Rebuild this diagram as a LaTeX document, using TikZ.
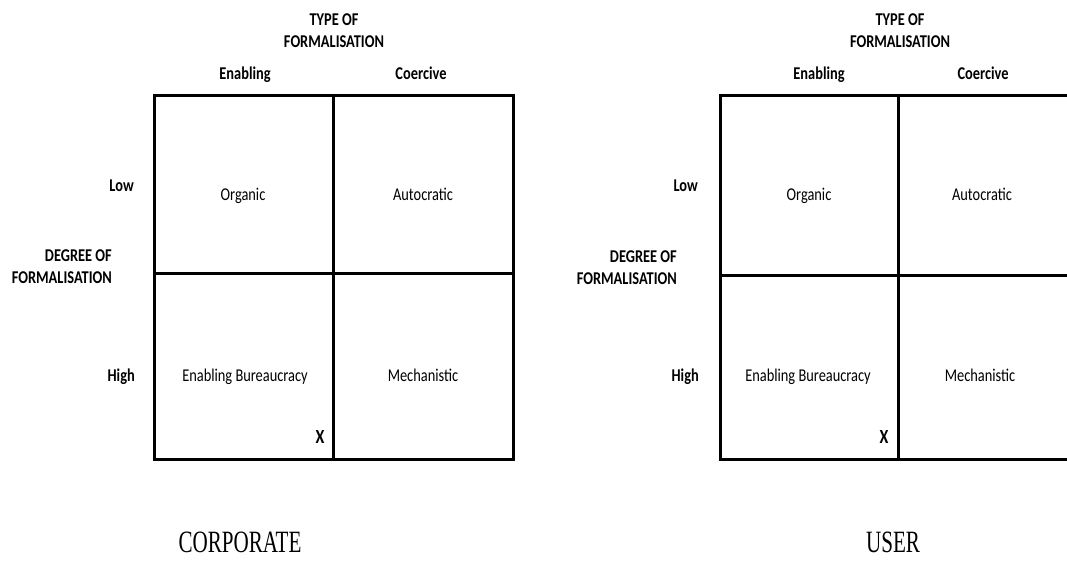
\documentclass[tikz,border=0pt]{standalone}
\usepackage{fontspec}
\setmainfont[FakeStretch=0.8]{Carlito}
\newfontfamily\capfont[FakeStretch=0.68]{Liberation Serif}
\usepackage{tikz}
\usetikzlibrary{backgrounds}
\pgfdeclarelayer{edgelayer}
\pgfdeclarelayer{nodelayer}
\pgfsetlayers{edgelayer,nodelayer,main}
\tikzstyle{head}=[font=\fontsize{18}{22}\selectfont\bfseries, align=center, inner sep=0pt]
\tikzstyle{colhead}=[font=\fontsize{18}{22}\selectfont\bfseries, anchor=base, inner sep=0pt]
\tikzstyle{rowhead}=[font=\fontsize{18}{22}\selectfont\bfseries, align=right, anchor=east, inner sep=0pt]
\tikzstyle{cell}=[font=\fontsize{18}{22}\selectfont, anchor=base, inner sep=0pt]
\tikzstyle{xmark}=[font=\fontsize{20}{22}\selectfont\bfseries, inner sep=0pt]
\tikzstyle{caption}=[font=\fontsize{31}{33}\selectfont\capfont, inner sep=0pt]
\tikzstyle{gridline}=[draw=black, line width=3pt]

\begin{document}
\begin{tikzpicture}[x=1pt, y=-1pt]
            \clip (0, 0) rectangle (1067, 561);
            \begin{pgfonlayer}{nodelayer}
                % corporate
                \node [style=head] (typeC) at (334, 31) {TYPE OF\\FORMALISATION};
                \node [style=colhead] (enabC) at (245, 80) {Enabling};
                \node [style=colhead] (coerC) at (421, 80) {Coercive};
                \node [style=rowhead] (lowC) at (134, 186) {Low};
                \node [style=rowhead] (degC) at (112, 267) {DEGREE OF\\FORMALISATION};
                \node [style=rowhead] (highC) at (135, 377) {High};
                \node [style=cell] (orgC) at (243, 201) {Organic};
                \node [style=cell] (autC) at (423, 201) {Autocratic};
                \node [style=cell] (bureC) at (245, 381) {Enabling Bureaucracy};
                \node [style=cell] (mechC) at (423, 381) {Mechanistic};
                \node [style=xmark] (xC) at (320, 437) {X};
                \node [style=caption] (corp) at (240, 542) {CORPORATE};
                % user
                \node [style=head] (typeU) at (900, 31) {TYPE OF\\FORMALISATION};
                \node [style=colhead] (enabU) at (819, 80) {Enabling};
                \node [style=colhead] (coerU) at (983, 80) {Coercive};
                \node [style=rowhead] (lowU) at (698, 186) {Low};
                \node [style=rowhead] (degU) at (677, 268) {DEGREE OF\\FORMALISATION};
                \node [style=rowhead] (highU) at (699, 377) {High};
                \node [style=cell] (orgU) at (809, 201) {Organic};
                \node [style=cell] (autU) at (982, 201) {Autocratic};
                \node [style=cell] (bureU) at (808, 381) {Enabling Bureaucracy};
                \node [style=cell] (mechU) at (980, 381) {Mechanistic};
                \node [style=xmark] (xU) at (884, 437) {X};
                \node [style=caption] (user) at (893, 542) {USER};
            \end{pgfonlayer}
            \begin{pgfonlayer}{edgelayer}
                \coordinate (gC1) at (154, 96);
                \coordinate (gC2) at (513, 459);
                \coordinate (gU1) at (720, 96);
                \coordinate (gU2) at (1078, 459);
                \draw [style=gridline] (gC1) rectangle (gC2);
                \draw [style=gridline] (333, 96) -- (333, 459);
                \draw [style=gridline] (154, 273) -- (513, 273);
                \draw [style=gridline] (gU1) rectangle (gU2);
                \draw [style=gridline] (898, 96) -- (898, 459);
                \draw [style=gridline] (720, 275) -- (1078, 275);
            \end{pgfonlayer}
        \end{tikzpicture}
\end{document}
